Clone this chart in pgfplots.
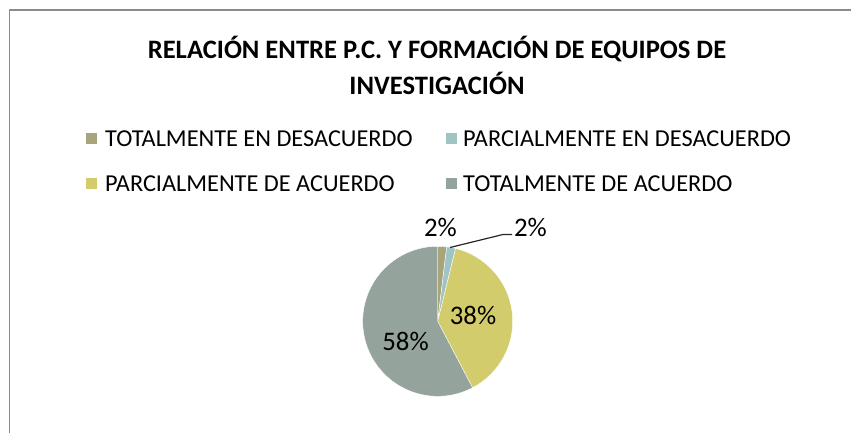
\documentclass[border=0pt]{standalone}
\usepackage{fontspec}
\setmainfont{Carlito}
\usepackage{pgfplots}
\usepackage{pgfplotstable}
\pgfplotsset{compat=1.18}
\definecolor{cTD}{HTML}{A8A47C}
\definecolor{cPD}{HTML}{9EC4C3}
\definecolor{cPA}{HTML}{D3CC6D}
\definecolor{cTA}{HTML}{94A39B}
\definecolor{frame}{HTML}{8C8C8C}
\pgfplotstableread{
cat value
TD 1
PD 1
PA 20
TA 30
}\datatable
\pgfplotstablegetelem{0}{value}\of\datatable \let\va\pgfplotsretval
\pgfplotstablegetelem{1}{value}\of\datatable \let\vb\pgfplotsretval
\pgfplotstablegetelem{2}{value}\of\datatable \let\vc\pgfplotsretval
\pgfplotstablegetelem{3}{value}\of\datatable \let\vd\pgfplotsretval
\pgfmathsetmacro\tot{\va+\vb+\vc+\vd}
\pgfmathsetmacro\aA{0}
\pgfmathsetmacro\aB{360*\va/\tot}
\pgfmathsetmacro\aC{360*(\va+\vb)/\tot}
\pgfmathsetmacro\aD{360*(\va+\vb+\vc)/\tot}
\pgfmathsetmacro\aE{360}
\def\cx{437.7}
\def\cy{321.3}
\def\rr{75}
\begin{document}
\begin{tikzpicture}
\begin{axis}[
  at={(0,0)}, anchor=south west,
  width=851bp, height=433bp, scale only axis,
  xmin=0, xmax=851, ymin=0, ymax=433, y dir=reverse,
  hide axis, clip=false,
]
% frame
\draw[frame, line width=1.6bp] (axis cs:9.5,445) -- (axis cs:9.5,9.8) -- (axis cs:870,9.8);
% pie slices
\addplot[fill=cTD, draw=white, line width=0.4bp, domain=\aA:\aB, samples=10, variable=\t] ({\cx+\rr*sin(\t)}, {\cy-\rr*cos(\t)}) -- (axis cs:\cx,\cy) -- cycle;
\addplot[fill=cPD, draw=white, line width=0.4bp, domain=\aB:\aC, samples=10, variable=\t] ({\cx+\rr*sin(\t)}, {\cy-\rr*cos(\t)}) -- (axis cs:\cx,\cy) -- cycle;
\addplot[fill=cPA, draw=white, line width=0.4bp, domain=\aC:\aD, samples=80, variable=\t] ({\cx+\rr*sin(\t)}, {\cy-\rr*cos(\t)}) -- (axis cs:\cx,\cy) -- cycle;
\addplot[fill=cTA, draw=white, line width=0.4bp, domain=\aD:\aE, samples=120, variable=\t] ({\cx+\rr*sin(\t)}, {\cy-\rr*cos(\t)}) -- (axis cs:\cx,\cy) -- cycle;
% leader line
\draw[black!85, line width=1.2bp] (axis cs:450,247.5) -- (axis cs:503,234.5) -- (axis cs:512,234.5);
% data labels
\node[font=\fontsize{26.8bp}{30bp}\selectfont, inner sep=0pt] at (axis cs:440.5,227) {2\%};
\node[font=\fontsize{26.8bp}{30bp}\selectfont, inner sep=0pt] at (axis cs:530.5,227) {2\%};
\node[font=\fontsize{26.8bp}{30bp}\selectfont, inner sep=0pt] at (axis cs:473,315.5) {38\%};
\node[font=\fontsize{26.8bp}{30bp}\selectfont, inner sep=0pt] at (axis cs:405.5,341.7) {58\%};
% title
\node[font=\fontsize{26.6bp}{30bp}\selectfont\bfseries, inner sep=0pt] at (axis cs:437,48.5) {RELACIÓN ENTRE P.C. Y FORMACIÓN DE EQUIPOS DE};
\node[font=\fontsize{26.6bp}{30bp}\selectfont\bfseries, inner sep=0pt] at (axis cs:437,83) {INVESTIGACIÓN};
% legend
\fill[cTD] (axis cs:86,132.5) rectangle (axis cs:97,143.5);
\node[font=\fontsize{24.3bp}{28bp}\selectfont, inner sep=0pt, anchor=west] at (axis cs:105,138.5) {TOTALMENTE EN DESACUERDO};
\fill[cPD] (axis cs:446,132.5) rectangle (axis cs:457,143.5);
\node[font=\fontsize{24.3bp}{28bp}\selectfont, inner sep=0pt, anchor=west] at (axis cs:463,138.5) {PARCIALMENTE EN DESACUERDO};
\fill[cPA] (axis cs:86,178) rectangle (axis cs:97,189);
\node[font=\fontsize{24.3bp}{28bp}\selectfont, inner sep=0pt, anchor=west] at (axis cs:105,183.5) {PARCIALMENTE DE ACUERDO};
\fill[cTA] (axis cs:446,178) rectangle (axis cs:457,189);
\node[font=\fontsize{24.3bp}{28bp}\selectfont, inner sep=0pt, anchor=west] at (axis cs:463,183.5) {TOTALMENTE DE ACUERDO};
\end{axis}
\pgfresetboundingbox
\useasboundingbox (0,0) rectangle (851bp,433bp);
\end{tikzpicture}
\end{document}
